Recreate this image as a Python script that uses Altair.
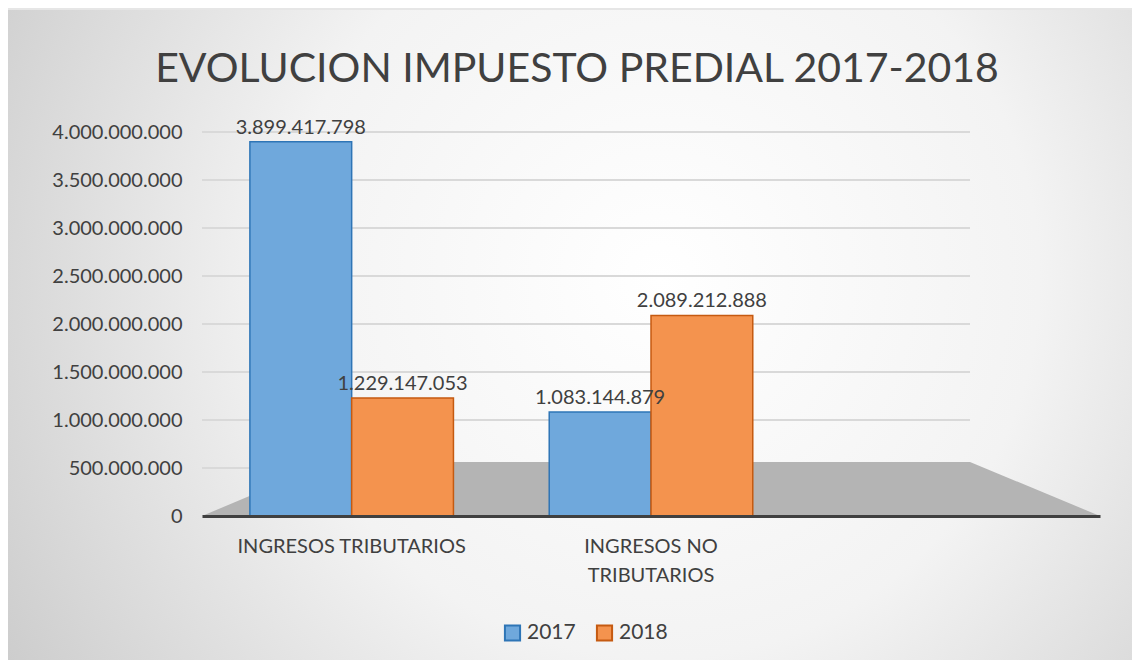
import altair as alt
import pandas as pd

# ---- data ----
categories = ["INGRESOS TRIBUTARIOS", "INGRESOS NO TRIBUTARIOS"]
years = ["2017", "2018"]
values_2017 = [3899417798, 1083144879]
values_2018 = [1229147053, 2089212888]
y_ticks = [0, 500000000, 1000000000, 1500000000, 2000000000,
           2500000000, 3000000000, 3500000000, 4000000000]

rows = []
for i, c in enumerate(categories):
    rows.append({"cat": c, "year": years[0], "value": values_2017[i]})
    rows.append({"cat": c, "year": years[1], "value": values_2018[i]})
df = pd.DataFrame(rows)
grid_df = pd.DataFrame({"v": y_ticks[1:]})

W, H = 898, 384
FONT = "Lato"
TXT = "#404040"
x_domain = categories + [" "]

fmt = "replace(format(datum.value, ','), regexp(',', 'g'), '.')"

# background (decorative)
bg = alt.Chart(pd.DataFrame({"a": [0]})).mark_rect(
    fill=alt.Gradient(
        gradient="radial",
        x1=0.58, y1=0.45, r1=0.0,
        x2=0.58, y2=0.45, r2=0.75,
        stops=[alt.GradientStop(offset=0, color="#ffffff"),
               alt.GradientStop(offset=0.45, color="#f3f3f3"),
               alt.GradientStop(offset=1, color="#c4c4c4")],
    )
).encode(x=alt.value(-194), x2=alt.value(W + 32), y=alt.value(-122), y2=alt.value(H + 144))

# gridlines
grid = alt.Chart(grid_df).mark_rule(color="#d9d9d9", strokeWidth=2).encode(
    y=alt.Y("v:Q", scale=alt.Scale(domain=[0, 4000000000], nice=False)),
    x=alt.value(0), x2=alt.value(768),
)

# floor (decorative)
floor_df = pd.DataFrame({"px": [0, 128, 768, 898], "top": [H, H - 54, H - 54, H], "bot": [H, H, H, H]})
floor = alt.Chart(floor_df).mark_area(color="#b4b4b4").encode(
    x=alt.X("px:Q", scale=None), y=alt.Y("top:Q", scale=None), y2="bot:Q"
)

base = alt.Chart(df).encode(
    x=alt.X("cat:N", scale=alt.Scale(domain=x_domain, paddingInner=0.32, paddingOuter=0.16),
            sort=x_domain,
            axis=alt.Axis(title=None, labelExpr="datum.value == 'INGRESOS NO TRIBUTARIOS' ? ['INGRESOS NO', 'TRIBUTARIOS'] : datum.value",
                          labelAngle=0, ticks=False, domainColor="#404040", domainWidth=3,
                          labelFont=FONT, labelFontSize=20, labelColor=TXT, labelPadding=20,
                          labelLineHeight=29, labelBaseline="top", labelLimit=400, zindex=1)),
    xOffset=alt.XOffset("year:N", sort=years),
    y=alt.Y("value:Q", scale=alt.Scale(domain=[0, 4000000000], nice=False),
            axis=alt.Axis(title=None, values=y_ticks, labelExpr=fmt, grid=False, domain=False,
                          ticks=False, labelFont=FONT, labelFontSize=20, labelColor=TXT,
                          labelPadding=20, zindex=1)),
)

leg = dict(title=None, orient="none", legendX=300, legendY=490,
           direction="horizontal", symbolType="square", symbolSize=230,
           symbolStrokeWidth=2, labelFont=FONT, labelFontSize=21,
           labelColor=TXT, columnPadding=16, padding=0, labelOffset=4)

bars = base.mark_bar(strokeWidth=1.5, fillOpacity=1).encode(
    fill=alt.Fill("year:N", sort=years,
                  scale=alt.Scale(domain=years, range=["#6fa8dc", "#f4934e"]),
                  legend=alt.Legend(**leg)),
    stroke=alt.Stroke("year:N", sort=years,
                      scale=alt.Scale(domain=years, range=["#2e75b6", "#c55a11"]),
                      legend=alt.Legend(**leg)),
)

labels = base.transform_calculate(lbl=fmt).mark_text(
    font=FONT, fontSize=20, color=TXT, baseline="bottom", dy=-4
).encode(text="lbl:N")

chart = alt.layer(bg, grid, floor, bars, labels).properties(
    width=W, height=H,
    title=alt.TitleParams("EVOLUCION IMPUESTO PREDIAL 2017-2018", font=FONT, fontSize=41,
                          fontWeight="normal", color=TXT, anchor="middle", dx=-74,
                          offset=-122, baseline="bottom"),
    autosize=alt.AutoSizeParams(type="none"),
    padding={"left": 194, "top": 124, "right": 32, "bottom": 144},
).configure(background="#e6e6e6").configure_view(stroke=None)

chart.save("out.html", embed_options={"renderer": "svg", "actions": False})
